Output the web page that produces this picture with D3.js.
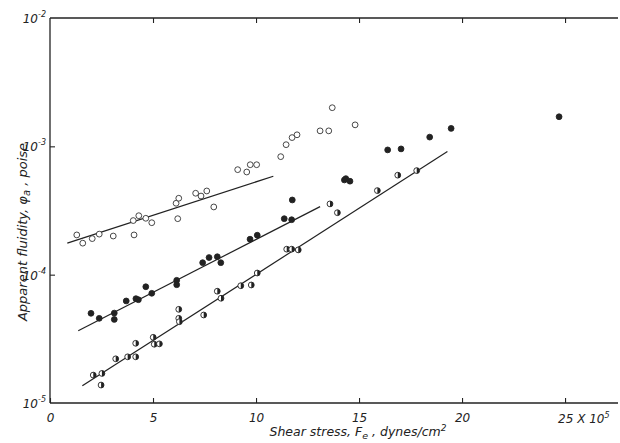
<!DOCTYPE html>
<html>
<head>
<meta charset="utf-8">
<script src="https://cdn.jsdelivr.net/npm/d3@7"></script>
<style>
  body { margin: 0; background: #fff; }
  svg text { font-family: "DejaVu Sans", sans-serif; font-style: italic; fill: #222; }
</style>
</head>
<body>
<div class="chart"></div>
<script>
// open circles
var openX = [1.30, 1.59, 2.05, 2.39, 3.07, 4.08, 4.04, 4.31, 4.65, 4.94, 6.20, 6.12, 6.25, 7.07, 7.33, 7.61, 7.95, 9.11, 9.55, 9.72, 10.03, 11.20, 11.46, 11.75, 11.99, 13.11, 13.53, 13.70, 14.81];
var openY = [2.04e-4, 1.76e-4, 1.91e-4, 2.07e-4, 2.00e-4, 2.04e-4, 2.64e-4, 2.88e-4, 2.75e-4, 2.54e-4, 2.73e-4, 3.60e-4, 3.94e-4, 4.31e-4, 4.10e-4, 4.49e-4, 3.37e-4, 6.58e-4, 6.31e-4, 7.19e-4, 7.19e-4, 8.31e-4, 1.03e-3, 1.17e-3, 1.23e-3, 1.32e-3, 1.32e-3, 2.00e-3, 1.47e-3];
// filled circles
var fillX = [1.99, 2.39, 3.12, 3.12, 3.70, 4.17, 4.29, 4.65, 4.94, 6.15, 6.15, 7.41, 7.72, 8.12, 8.29, 9.71, 10.06, 11.37, 11.73, 11.76, 14.29, 14.36, 14.56, 16.39, 17.04, 18.43, 19.47, 24.71];
var fillY = [5.00e-5, 4.57e-5, 5.02e-5, 4.48e-5, 6.24e-5, 6.50e-5, 6.38e-5, 8.05e-5, 7.16e-5, 9.04e-5, 8.35e-5, 1.24e-4, 1.36e-4, 1.38e-4, 1.24e-4, 1.89e-4, 2.03e-4, 2.73e-4, 2.68e-4, 3.82e-4, 5.47e-4, 5.60e-4, 5.35e-4, 9.38e-4, 9.55e-4, 1.18e-3, 1.38e-3, 1.70e-3];
// half filled circles
var halfX = [2.10, 2.52, 2.48, 3.19, 3.77, 4.16, 4.16, 5.01, 5.06, 5.31, 6.25, 6.25, 6.28, 7.46, 8.12, 8.30, 9.26, 9.77, 10.06, 11.49, 11.73, 12.05, 13.59, 13.95, 15.89, 16.88, 17.80];
var halfY = [1.65e-5, 1.70e-5, 1.38e-5, 2.21e-5, 2.29e-5, 2.29e-5, 2.92e-5, 3.25e-5, 2.87e-5, 2.89e-5, 5.37e-5, 4.57e-5, 4.30e-5, 4.85e-5, 7.43e-5, 6.55e-5, 8.20e-5, 8.31e-5, 1.03e-4, 1.58e-4, 1.58e-4, 1.56e-4, 3.56e-4, 3.04e-4, 4.52e-4, 5.96e-4, 6.47e-4];
// fitted lines, end points
var openLineX = [0.84, 10.84], openLineY = [1.76e-4, 5.85e-4];
var fillLineX = [1.37, 13.11], fillLineY = [3.66e-5, 3.39e-4];
var halfLineX = [1.57, 19.29], halfLineY = [1.36e-5, 9.1e-4];

var xTicks = [0, 5, 10, 15, 20, 25];
var yTicks = [1e-5, 1e-4, 1e-3, 1e-2];
var yTickExp = ["-5", "-4", "-3", "-2"];

var W = 620, H = 443;
var margin = { top: 18, right: 2, bottom: 40, left: 50 };

var svg = d3.select(".chart").append("svg")
    .attr("width", W)
    .attr("height", H);

var x = d3.scaleLinear().domain([0, 27.57]).range([margin.left, W - margin.right]);
var y = d3.scaleLog().domain([1e-5, 1e-2]).range([H - margin.bottom, margin.top]);

var zip = function (a, b) { return a.map(function (v, i) { return [v, b[i]]; }); };

// FRAME (open on the right)
var frame = svg.append("g").attr("stroke", "#222").attr("stroke-width", 1.3).attr("fill", "none");
frame.append("line").attr("x1", x(0)).attr("x2", W - margin.right).attr("y1", y(1e-2)).attr("y2", y(1e-2));
frame.append("line").attr("x1", x(0)).attr("x2", W - margin.right).attr("y1", y(1e-5)).attr("y2", y(1e-5));
frame.append("line").attr("x1", x(0)).attr("x2", x(0)).attr("y1", y(1e-2)).attr("y2", y(1e-5));

// BOTTOM AXIS
var xb = svg.append("g")
    .attr("transform", "translate(0," + y(1e-5) + ")")
    .call(d3.axisBottom(x).tickValues(xTicks).tickSizeInner(-5).tickSizeOuter(0).tickPadding(10)
        .tickFormat(function (d) { return d === 25 ? "" : d; }));
xb.select(".domain").remove();
xb.selectAll("line").attr("stroke", "#222").attr("stroke-width", 1.1);
xb.selectAll("text").attr("font-size", 12).attr("font-family", null);

var lab25 = svg.append("text")
    .attr("x", x(25) - 7)
    .attr("y", y(1e-5) + 20)
    .attr("font-size", 12);
lab25.append("tspan").text("25 X 10");
lab25.append("tspan").attr("dy", -5).attr("font-size", 8).text("5");

// TOP AXIS
var xt = svg.append("g")
    .attr("transform", "translate(0," + y(1e-2) + ")")
    .call(d3.axisTop(x).tickValues(xTicks.slice(1)).tickSizeInner(-5).tickSizeOuter(0).tickFormat(""));
xt.select(".domain").remove();
xt.selectAll("line").attr("stroke", "#222").attr("stroke-width", 1.1);

// LEFT AXIS
var ya = svg.append("g")
    .attr("transform", "translate(" + x(0) + ",0)")
    .call(d3.axisLeft(y).tickValues(yTicks.slice(1, 3)).tickSizeInner(-5).tickSizeOuter(0).tickFormat(""));
ya.select(".domain").remove();
ya.selectAll("line").attr("stroke", "#222").attr("stroke-width", 1.1);

var ylab = svg.append("g").selectAll("text")
    .data(yTicks)
    .enter().append("text")
    .attr("x", x(0) - 4)
    .attr("y", function (d) { return y(d) + 5; })
    .attr("text-anchor", "end")
    .attr("font-size", 12);
ylab.append("tspan").text("10");
ylab.append("tspan").attr("dy", -6).attr("font-size", 8).text(function (d, i) { return yTickExp[i]; });

// AXIS TITLES
var xt2 = svg.append("text")
    .attr("x", 358)
    .attr("y", 436)
    .attr("text-anchor", "middle")
    .attr("font-size", 12.5);
xt2.append("tspan").text("Shear stress, F");
xt2.append("tspan").attr("dy", 3).attr("font-size", 9.5).text("e");
xt2.append("tspan").attr("dy", -3).text(" , dynes/cm");
xt2.append("tspan").attr("dy", -5).attr("font-size", 9).text("2");

var yt2 = svg.append("text")
    .attr("transform", "translate(27,232) rotate(-90)")
    .attr("text-anchor", "middle")
    .attr("font-size", 13);
yt2.append("tspan").text("Apparent fluidity, \u03c6");
yt2.append("tspan").attr("dy", 3).attr("font-size", 10).text("a");
yt2.append("tspan").attr("dy", -3).text(" , poise");

// FIT LINES
var line = d3.line().x(function (d) { return x(d[0]); }).y(function (d) { return y(d[1]); });
[zip(openLineX, openLineY), zip(fillLineX, fillLineY), zip(halfLineX, halfLineY)].forEach(function (pts) {
    svg.append("path")
        .datum(pts)
        .attr("d", line)
        .attr("fill", "none")
        .attr("stroke", "#222")
        .attr("stroke-width", 1.2);
});

var r = 2.9;

// OPEN CIRCLES
svg.append("g").selectAll("circle")
    .data(zip(openX, openY))
    .enter().append("circle")
    .attr("cx", function (d) { return x(d[0]); })
    .attr("cy", function (d) { return y(d[1]); })
    .attr("r", r)
    .attr("fill", "#fff")
    .attr("stroke", "#333")
    .attr("stroke-width", 0.9);

// FILLED CIRCLES
svg.append("g").selectAll("circle")
    .data(zip(fillX, fillY))
    .enter().append("circle")
    .attr("cx", function (d) { return x(d[0]); })
    .attr("cy", function (d) { return y(d[1]); })
    .attr("r", r)
    .attr("fill", "#222")
    .attr("stroke", "#222")
    .attr("stroke-width", 0.9);

// HALF FILLED CIRCLES
var half = svg.append("g").selectAll("g")
    .data(zip(halfX, halfY))
    .enter().append("g")
    .attr("transform", function (d) { return "translate(" + x(d[0]) + "," + y(d[1]) + ")"; });
half.append("circle")
    .attr("r", r)
    .attr("fill", "#fff")
    .attr("stroke", "#222")
    .attr("stroke-width", 0.9);
half.append("path")
    .attr("d", "M0," + (-r) + "A" + r + "," + r + " 0 0 1 0," + r + "Z")
    .attr("fill", "#222");
</script>
</body>
</html>
